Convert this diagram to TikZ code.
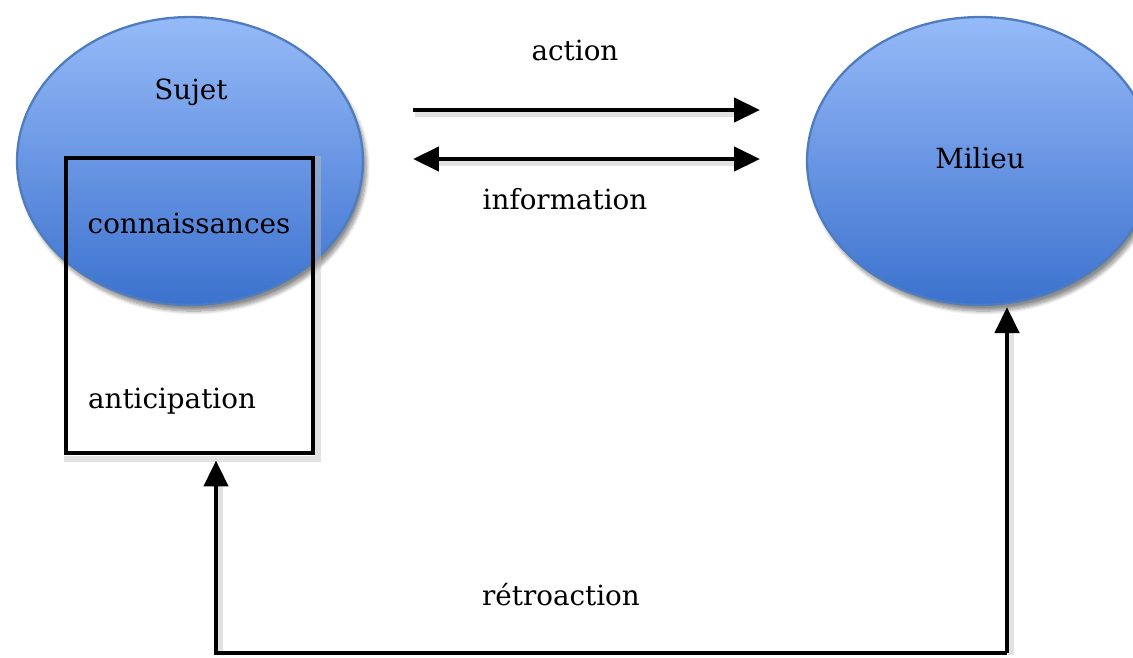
\documentclass[tikz,border=0pt]{standalone}
\usepackage{fontspec}
\setmainfont{DejaVu Serif}
\usetikzlibrary{arrows.meta,shadows.blur,shapes.geometric}

\definecolor{blobtop}{RGB}{150,186,248}
\definecolor{blobbot}{RGB}{60,114,206}
\definecolor{blobline}{RGB}{78,124,190}

\tikzset{
  blob/.style={ellipse, draw=blobline, line width=1.3pt,
    top color=blobtop, bottom color=blobbot, inner sep=0pt,
    minimum width=6.92cm, minimum height=5.76cm,
    blur shadow={shadow xshift=2pt, shadow yshift=-3.5pt, shadow opacity=45, shadow blur steps=10}},
  frame/.style={rectangle, draw=black, line width=2.5pt, inner sep=0pt,
    minimum width=4.94cm, minimum height=5.9cm},
  word/.style={font=\fontsize{15.8}{18}\selectfont, text=black, inner sep=1pt},
  arr/.style={line width=2.5pt, -{Triangle[length=0.52cm,width=0.48cm]}},
  biarr/.style={line width=2.5pt, {Triangle[length=0.52cm,width=0.48cm]}-{Triangle[length=0.52cm,width=0.48cm]}},
  ghost/.style={line width=3.5pt, draw=black!25, opacity=0.45}
}

\begin{document}
\begin{tikzpicture}[x=0.02cm, y=-0.02cm]
  \useasboundingbox (0,0) rectangle (1133,657);

  % the two actors
  \node[blob] (sujet) at (190,161) {};
  \node[blob] (milieu) at (980,161) {};

  % knowledge / anticipation frame
  \node[frame] (box) at (189.5,305.5) {};

  % labels
  \node[word] (tsujet) at (191,92) {Sujet};
  \node[word] (tconn) at (189,223) {connaissances};
  \node[word] (tanti) at (172,401) {anticipation};
  \node[word] (tmil) at (980,158) {Milieu};
  \node[word] (tact) at (575,50) {action};
  \node[word] (tinfo) at (565,199) {information};
  \node[word] (tretro) at (561,595) {rétroaction};

  % loose ends of the exchange arrows
  \coordinate (actA) at (413,110);
  \coordinate (actB) at (760,110);
  \coordinate (infA) at (413,159);
  \coordinate (infB) at (760,159);

  % feedback loop corners
  \coordinate (fbR) at (1007,653);
  \coordinate (fbL) at (216,653);
  \coordinate (fbTop) at (1007,307);

  % soft shadows under the connectors
  \draw[ghost] ([shift={(2,4)}]actA) -- ([shift={(-24,4)}]actB);
  \draw[ghost] ([shift={(24,4)}]infA) -- ([shift={(-24,4)}]infB);
  \draw[ghost] ([shift={(4,22)}]fbTop) -- ([shift={(4,2)}]fbR);
  \draw[ghost] ([shift={(4,2)}]fbL) -- ([shift={(4,24)}]box.south -| fbL);
  \draw[ghost] ([shift={(0,4)}]box.south west) -- ([shift={(3,4)}]box.south east) -- ([shift={(3,0)}]box.north east);

  % connectors
  \draw[arr] (actA) -- (actB);
  \draw[biarr] (infA) -- (infB);
  \draw[arr, line join=miter] (fbR) -- (fbL) -- ([yshift=-3]box.south -| fbL);
  \draw[arr] (fbR) -- (fbTop);
\end{tikzpicture}
\end{document}
